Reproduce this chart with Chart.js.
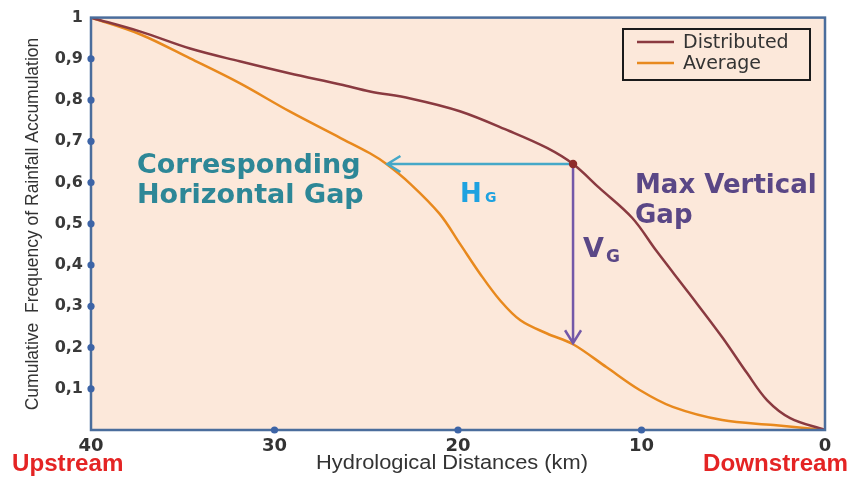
<!DOCTYPE html>
<html>
<head>
<meta charset="utf-8">
<script src="https://cdn.jsdelivr.net/npm/chart.js@4.4.1/dist/chart.umd.min.js"></script>
<style>
  html, body { margin: 0; padding: 0; background: #ffffff; }
  #wrap { width: 851px; height: 477px; position: relative; }
</style>
</head>
<body>
<div id="wrap"><canvas id="cdf"></canvas></div>
<script>
// hydrological distance (km) and cumulative frequency
const distDistributed = [40, 37.3, 34.6, 31.9, 29.2, 26.4, 24.8, 22.6, 19.9, 17.2, 15.15, 13.73, 12.3, 10.5, 9.2, 7.4, 5.6, 4.25, 3.15, 1.9, 0];
const valDistributed  = [1.0, 0.966, 0.925, 0.894, 0.865, 0.838, 0.821, 0.804, 0.773, 0.725, 0.684, 0.645, 0.587, 0.514, 0.435, 0.331, 0.225, 0.138, 0.072, 0.029, 0];

const distAverage = [40, 37.3, 34.6, 31.9, 29.2, 26.4, 24.8, 23.9, 22.6, 21.0, 19.9, 18.8, 17.7, 16.6, 15.15, 13.73, 11.9, 10.1, 8.3, 5.6, 2.8, 0];
const valAverage  = [1.0, 0.959, 0.901, 0.841, 0.773, 0.708, 0.671, 0.645, 0.597, 0.524, 0.452, 0.379, 0.314, 0.266, 0.234, 0.208, 0.152, 0.097, 0.056, 0.024, 0.012, 0];

const xTicks = [40, 30, 20, 10, 0];
const yTicks = [0.1, 0.2, 0.3, 0.4, 0.5, 0.6, 0.7, 0.8, 0.9, 1];

// gap markers (distance, frequency)
const gapPoint = [13.73, 0.645];
const hGapEnd = 23.9;
const vGapEnd = 0.208;

function toXY(xs, ys) {
  return xs.map((x, i) => ({ x: x, y: ys[i] }));
}

const frameColor = '#4a6d9c';
const dotColor = '#3d64a6';
const sans = '"Liberation Sans", Arial, sans-serif';
const wide = '"DejaVu Sans", Verdana, sans-serif';

// background, frame, tick dots, arrows, labels, legend
const decor = {
  id: 'decor',
  beforeDraw(chart) {
    const { ctx, chartArea: a } = chart;
    ctx.save();
    ctx.fillStyle = '#fce8da';
    ctx.fillRect(a.left, a.top, a.right - a.left, a.bottom - a.top);
    ctx.restore();
  },
  afterDatasetsDraw(chart) {
    const { ctx, chartArea: a, scales: { x, y } } = chart;
    ctx.save();
    // frame
    ctx.strokeStyle = frameColor;
    ctx.lineWidth = 2.5;
    ctx.strokeRect(a.left, a.top, a.right - a.left, a.bottom - a.top);
    // tick dots
    ctx.fillStyle = dotColor;
    yTicks.forEach(v => {
      if (v >= 1) return;
      ctx.beginPath();
      ctx.arc(a.left, y.getPixelForValue(v), 3.6, 0, Math.PI * 2);
      ctx.fill();
    });
    xTicks.forEach(v => {
      if (v === 0 || v === 40) return;
      ctx.beginPath();
      ctx.arc(x.getPixelForValue(v), a.bottom, 3.6, 0, Math.PI * 2);
      ctx.fill();
    });

    const px = x.getPixelForValue(gapPoint[0]);
    const py = y.getPixelForValue(gapPoint[1]);

    // horizontal gap arrow
    const hx = x.getPixelForValue(hGapEnd);
    ctx.strokeStyle = '#46a8c8';
    ctx.lineWidth = 2.5;
    ctx.beginPath();
    ctx.moveTo(px, py);
    ctx.lineTo(hx + 2, py);
    ctx.moveTo(hx + 14, py - 8);
    ctx.lineTo(hx + 1, py);
    ctx.lineTo(hx + 14, py + 8);
    ctx.stroke();

    // vertical gap arrow
    const vy = y.getPixelForValue(vGapEnd);
    ctx.strokeStyle = '#7358a8';
    ctx.beginPath();
    ctx.moveTo(px, py);
    ctx.lineTo(px, vy - 2);
    ctx.moveTo(px - 8, vy - 14);
    ctx.lineTo(px, vy - 1);
    ctx.lineTo(px + 8, vy - 14);
    ctx.stroke();

    // max point
    ctx.fillStyle = '#8e2b2b';
    ctx.beginPath();
    ctx.arc(px, py, 4.2, 0, Math.PI * 2);
    ctx.fill();

    // text labels
    ctx.textBaseline = 'alphabetic';
    ctx.textAlign = 'left';
    ctx.fillStyle = '#2d8797';
    ctx.font = 'bold 27px ' + wide;
    ctx.fillText('Corresponding', 137, 173);
    ctx.fillText('Horizontal Gap', 137, 203);

    ctx.fillStyle = '#1ea2e0';
    ctx.font = 'bold 26px ' + wide;
    ctx.fillText('H', 460, 202);
    ctx.font = 'bold 14px ' + wide;
    ctx.fillText('G', 485, 202);

    ctx.fillStyle = '#5a4786';
    ctx.font = 'bold 27px ' + wide;
    ctx.fillText('V', 583, 257);
    ctx.font = 'bold 17px ' + wide;
    ctx.fillText('G', 606, 262);

    ctx.font = 'bold 26px ' + wide;
    ctx.fillText('Max Vertical', 635, 193);
    ctx.fillText('Gap', 635, 223);

    // legend box
    const lx = 623, ly = 29, lw = 187, lh = 51;
    ctx.strokeStyle = '#1a1a1a';
    ctx.lineWidth = 2;
    ctx.strokeRect(lx, ly, lw, lh);
    ctx.font = '19px ' + wide;
    chart.data.datasets.forEach((ds, i) => {
      const ry = ly + 13 + i * 21;
      ctx.strokeStyle = ds.borderColor;
      ctx.lineWidth = 2.5;
      ctx.beginPath();
      ctx.moveTo(lx + 14, ry);
      ctx.lineTo(lx + 51, ry);
      ctx.stroke();
      ctx.fillStyle = '#333333';
      ctx.textBaseline = 'middle';
      ctx.fillText(ds.label, lx + 60, ry + 1);
    });

    // axis titles
    ctx.fillStyle = '#333333';
    ctx.textAlign = 'center';
    ctx.textBaseline = 'middle';
    ctx.save();
    ctx.translate(452, 464);
    ctx.scale(1.12, 1);
    ctx.font = '19.5px ' + sans;
    ctx.fillText('Hydrological Distances (km)', 0, 0);
    ctx.restore();
    ctx.save();
    ctx.translate(33, 224);
    ctx.rotate(-Math.PI / 2);
    ctx.font = '17.5px ' + sans;
    ctx.fillText('Cumulative  Frequency of Rainfall Accumulation', 0, 0);
    ctx.restore();

    // axis end labels
    ctx.textBaseline = 'alphabetic';
    ctx.fillStyle = '#e42424';
    ctx.font = 'bold 23px ' + sans;
    ctx.textAlign = 'left';
    ctx.save();
    ctx.translate(12, 471);
    ctx.scale(1.05, 1);
    ctx.fillText('Upstream', 0, 0);
    ctx.restore();
    ctx.textAlign = 'right';
    ctx.save();
    ctx.translate(848, 471);
    ctx.scale(1.05, 1);
    ctx.fillText('Downstream', 0, 0);
    ctx.restore();

    ctx.restore();
  }
};

new Chart(document.getElementById('cdf'), {
  type: 'line',
  data: {
    datasets: [
      {
        label: 'Distributed',
        data: toXY(distDistributed, valDistributed),
        borderColor: '#8a3a40',
        borderWidth: 2.5,
        pointRadius: 0,
        tension: 0.35,
        fill: false
      },
      {
        label: 'Average',
        data: toXY(distAverage, valAverage),
        borderColor: '#e8891e',
        borderWidth: 2.5,
        pointRadius: 0,
        tension: 0.35,
        fill: false
      }
    ]
  },
  options: {
    responsive: true,
    maintainAspectRatio: false,
    animation: false,
    layout: { padding: { top: 16, right: 26, left: 0, bottom: 0 } },
    plugins: {
      legend: { display: false },
      tooltip: { enabled: false }
    },
    scales: {
      x: {
        type: 'linear',
        min: 0,
        max: 40,
        reverse: true,
        grid: { display: false, drawTicks: false },
        border: { display: false },
        afterBuildTicks: s => { s.ticks = xTicks.map(v => ({ value: v })); },
        afterFit: s => { s.height = 47; },
        ticks: {
          padding: 6,
          color: '#333333',
          font: { family: wide, size: 18, weight: 'bold' },
          maxRotation: 0
        }
      },
      y: {
        type: 'linear',
        min: 0,
        max: 1,
        grid: { display: false, drawTicks: false },
        border: { display: false },
        afterBuildTicks: s => { s.ticks = yTicks.map(v => ({ value: v })); },
        afterFit: s => { s.width = 91; },
        ticks: {
          padding: 8,
          color: '#3a3a3a',
          font: { family: wide, size: 16, weight: 'bold' },
          callback: v => v >= 1 ? '1' : v.toFixed(1).replace('.', ',')
        }
      }
    }
  },
  plugins: [decor]
});
</script>
</body>
</html>
